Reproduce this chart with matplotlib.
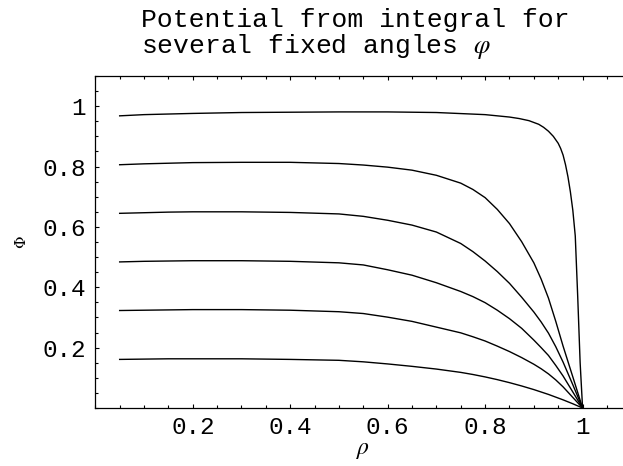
#!/usr/bin/env python3
"""Potential from integral for several fixed angles phi (Mathematica-style frame)."""
import numpy as np
import matplotlib
matplotlib.use("Agg")
import matplotlib.pyplot as plt
from matplotlib.ticker import MultipleLocator, FixedLocator

plt.rcParams['mathtext.fontset'] = 'stix'

# ---------- Data ----------
rho = [0.05, 0.1, 0.15, 0.2, 0.3, 0.4, 0.5, 0.55, 0.6, 0.65, 0.7, 0.75,
       0.775, 0.8, 0.825, 0.85, 0.875, 0.9, 0.915, 0.93, 0.945, 0.96, 0.98, 1.0]

phi_2 = [0.806, 0.809, 0.811, 0.813, 0.814, 0.814, 0.810, 0.805, 0.798, 0.788,
         0.771, 0.745, 0.724, 0.697, 0.658, 0.611, 0.551, 0.481, 0.427, 0.364,
         0.287, 0.205, 0.103, 0.0]
phi_3 = [0.645, 0.647, 0.649, 0.650, 0.650, 0.648, 0.643, 0.635, 0.622, 0.606,
         0.583, 0.545, 0.518, 0.487, 0.452, 0.413, 0.367, 0.318, 0.285, 0.248,
         0.203, 0.152, 0.077, 0.0]
phi_4 = [0.484, 0.486, 0.487, 0.488, 0.488, 0.486, 0.481, 0.474, 0.458, 0.440,
         0.415, 0.386, 0.369, 0.349, 0.324, 0.296, 0.264, 0.225, 0.200, 0.174,
         0.141, 0.106, 0.053, 0.0]
phi_5 = [0.323, 0.324, 0.325, 0.326, 0.326, 0.324, 0.319, 0.313, 0.301, 0.287,
         0.268, 0.249, 0.236, 0.222, 0.205, 0.187, 0.167, 0.145, 0.130, 0.113,
         0.093, 0.070, 0.035, 0.0]
phi_6 = [0.161, 0.162, 0.163, 0.163, 0.163, 0.161, 0.158, 0.153, 0.146, 0.138,
         0.129, 0.118, 0.111, 0.103, 0.094, 0.084, 0.073, 0.061, 0.053, 0.045,
         0.036, 0.027, 0.014, 0.0]

# top curve needs a denser grid near rho = 1
rho_top = [0.05, 0.1, 0.2, 0.3, 0.4, 0.5, 0.6, 0.7, 0.8, 0.85, 0.87, 0.89,
           0.91, 0.92, 0.93, 0.94, 0.95, 0.955, 0.96, 0.965, 0.97, 0.975,
           0.98, 0.985, 0.99, 0.995, 1.0]
phi_1 = [0.968, 0.972, 0.976, 0.979, 0.980, 0.981, 0.981, 0.979, 0.972, 0.964,
         0.959, 0.952, 0.940, 0.930, 0.917, 0.900, 0.877, 0.860, 0.838, 0.806,
         0.766, 0.716, 0.655, 0.570, 0.370, 0.150, 0.0]

tick_vals = [0.2, 0.4, 0.6, 0.8, 1.0]
tick_text = ['0.2', '0.4', '0.6', '0.8', '1']

# ---------- Plot ----------
W, H = 623, 466
fig = plt.figure(figsize=(W / 100, H / 100), dpi=100)
# frame runs off the right edge, like the cropped original
ax = fig.add_axes([95.3 / W, 1 - 408 / H, 536 / W, 332 / H])

ax.plot(rho_top, phi_1, color='black', lw=1.0)
for ys in (phi_2, phi_3, phi_4, phi_5, phi_6):
    ax.plot(rho, ys, color='black', lw=1.0)

ax.set_xlim(0, 1.1)
ax.set_ylim(0, 1.1)

mono = 'Liberation Mono'
ax.xaxis.set_major_locator(FixedLocator(tick_vals))
ax.yaxis.set_major_locator(FixedLocator(tick_vals))
ax.set_xticklabels(tick_text, family=mono, fontsize=17.5)
ax.set_yticklabels(tick_text, family=mono, fontsize=17.5)
ax.xaxis.set_minor_locator(MultipleLocator(0.05))
ax.yaxis.set_minor_locator(MultipleLocator(0.05))
ax.tick_params(which='both', direction='in', top=True, right=False,
               width=0.8, color='black')
ax.tick_params(which='major', length=3.0)
ax.tick_params(which='minor', length=2.0)
ax.tick_params(axis='x', which='major', pad=6)
ax.tick_params(axis='y', which='major', pad=7)
for s in ax.spines.values():
    s.set_linewidth(0.9)
ax.spines['right'].set_visible(False)

ax.set_xlabel(r'$\rho$', fontsize=17, labelpad=-2)
ax.set_ylabel('Φ', family='DejaVu Serif', fontsize=11, labelpad=10)

fig.text(141 / W, 1 - 53 / H,
         'Potential from integral for\nseveral fixed angles $\\varphi$',
         family=mono, fontsize=19, ha='left', va='baseline',
         linespacing=1.0, ma='left')

fig.savefig('out.png', dpi=100)
